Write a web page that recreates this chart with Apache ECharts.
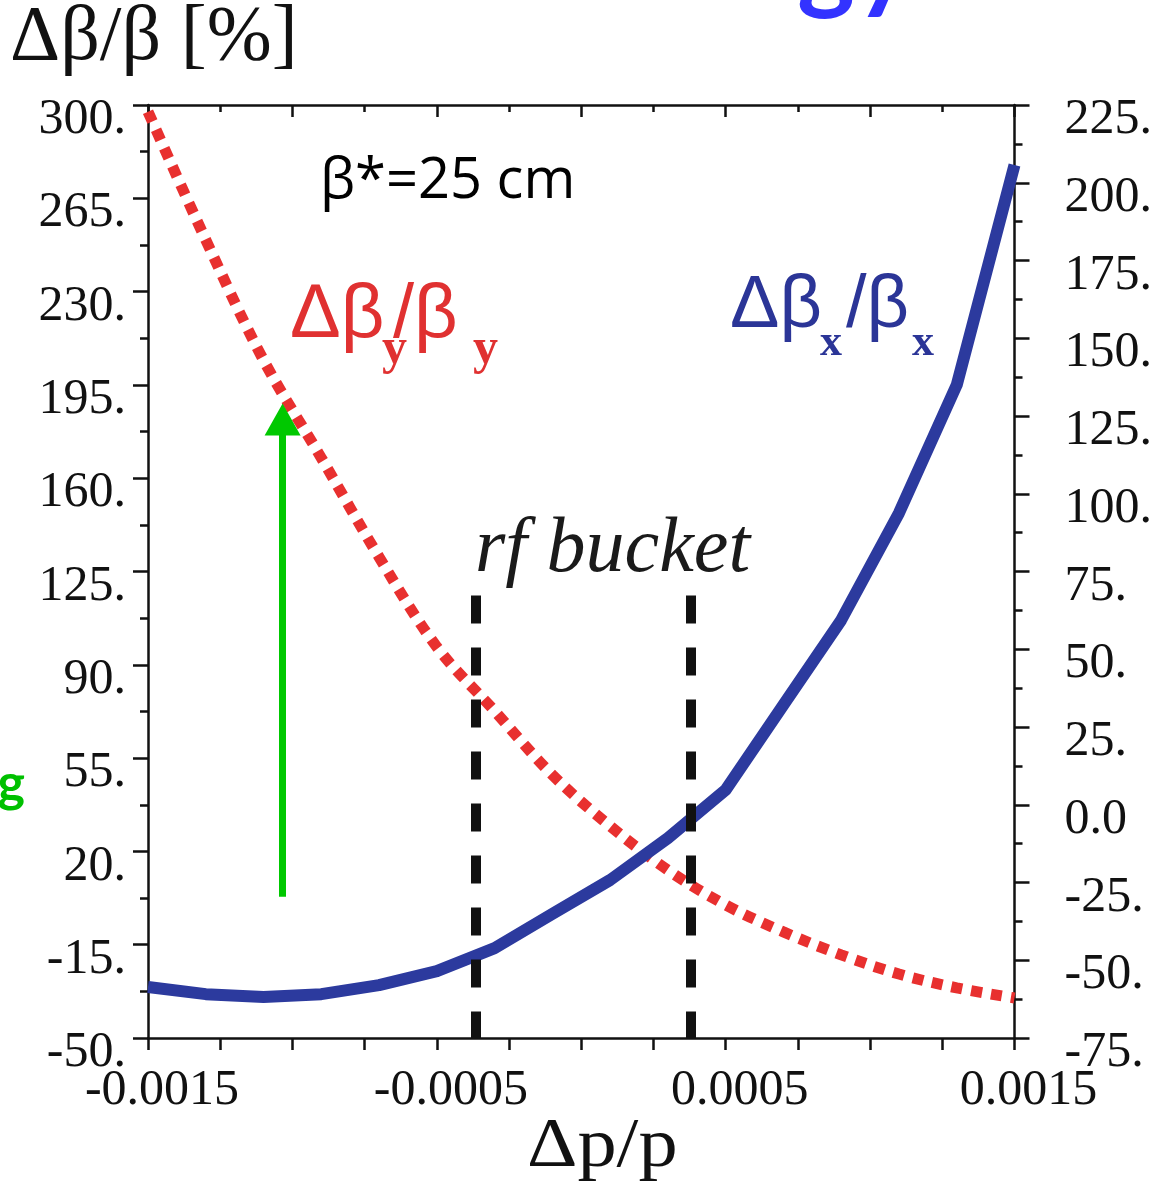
<!DOCTYPE html>
<html><head><meta charset="utf-8">
<script src="https://cdn.jsdelivr.net/npm/echarts@6/dist/echarts.min.js"></script>
<style>html,body{margin:0;padding:0;background:#fff;overflow:hidden}#c{width:1155px;height:1188px}</style>
</head><body><div id="c"></div>
<script>
// Δp/p sample points
const dpX = [-0.0015,-0.0013,-0.0011,-0.0009,-0.0007,-0.0005,-0.0003,-0.0001,0.0001,0.0003,0.0005,0.0007,0.0009,0.0011,0.0013,0.0015];
// Δβy/βy [%] (left axis)
const betaY = [297.5,249.4,204.3,167.6,130.4,96.7,72.7,48.7,29.5,13.0,-0.1,-10.2,-18.8,-26.0,-31.2,-35.0];
// Δβx/βx [%] (right axis)
const betaX = [-58.6,-60.9,-61.8,-60.9,-58.0,-53.5,-46.1,-35.1,-24.2,-10.7,4.8,32.1,59.4,93.8,135.0,205.7];
// tick labels
const xTickLabels = ['-0.0015','','-0.0005','','0.0005','','0.0015'];
const yLeftLabels = ['-50.','-15.','20.','55.','90.','125.','160.','195.','230.','265.','300.'];
const yRightLabels = ['-75.','-50.','-25.','0.0','25.','50.','75.','100.','125.','150.','175.','200.','225.'];
// rf bucket edges and arrow
const rfBucket = [-0.000366, 0.000379];
const rfTop = 116;
const arrowX = -0.001034, arrowFrom = 3, arrowTo = 182;

const serif = '"Liberation Serif", "Times New Roman", serif';
const sans = '"Liberation Sans", Arial, sans-serif';
const chart = echarts.init(document.getElementById('c'), null, {renderer:'canvas'});
const axisLine = {show:true, onZero:false, lineStyle:{color:'#111', width:2.5}};
const labelStyle = {color:'#111', fontFamily:serif, fontSize:50};
const tickStyle = {color:'#111', width:2.5};

chart.setOption({
  animation:false,
  backgroundColor:'#fff',
  grid:{left:148, right:134, top:105, bottom:150, containLabel:false},
  xAxis:[
    {type:'value', position:'bottom', min:-0.0015, max:0.0015, interval:0.0005,
     axisLine:axisLine, splitLine:{show:false},
     axisTick:{show:true, inside:false, length:12, lineStyle:tickStyle},
     minorTick:{show:true, splitNumber:2, length:12, lineStyle:tickStyle},
     axisLabel:Object.assign({}, labelStyle, {margin:28, padding:[0,0,0,28], showMinLabel:true, showMaxLabel:true,
       formatter:(v)=>{const i=Math.round((v+0.0015)/0.0005); return xTickLabels[i]||'';}})},
    {type:'value', position:'top', min:-0.0015, max:0.0015, interval:0.0005,
     axisLine:axisLine, splitLine:{show:false},
     axisTick:{show:true, inside:true, length:12, lineStyle:tickStyle},
     minorTick:{show:true, splitNumber:2, length:7, lineStyle:tickStyle},
     axisLabel:{show:false}}
  ],
  yAxis:[
    {type:'value', position:'left', min:-50, max:300, interval:35,
     axisLine:axisLine, splitLine:{show:false},
     axisTick:{show:true, inside:false, length:15, lineStyle:tickStyle},
     minorTick:{show:true, splitNumber:2, length:8, lineStyle:tickStyle},
     axisLabel:Object.assign({}, labelStyle, {margin:22, verticalAlign:'top', lineHeight:30, showMinLabel:true, showMaxLabel:true,
       formatter:(v)=>{const i=Math.round((v+50)/35); return yLeftLabels[i]||'';}})},
    {type:'value', position:'right', min:-75, max:225, interval:25,
     axisLine:axisLine, splitLine:{show:false},
     axisTick:{show:true, inside:false, length:15, lineStyle:tickStyle},
     minorTick:{show:true, splitNumber:2, length:8, lineStyle:tickStyle},
     axisLabel:Object.assign({}, labelStyle, {margin:50, verticalAlign:'top', lineHeight:30, showMinLabel:true, showMaxLabel:true,
       formatter:(v)=>{const i=Math.round((v+75)/25); return yRightLabels[i]||'';}})}
  ],
  series:[
    {name:'dby', type:'line', xAxisIndex:0, yAxisIndex:0, clip:false, smooth:0.35, showSymbol:false, silent:true,
     data:dpX.map((x,i)=>[x,betaY[i]]),
     lineStyle:{color:'#e8302f', width:11, type:[11,9], cap:'butt'},
     markLine:{silent:true, symbol:['none','none'], label:{show:false}, animation:false,
       data:[
         [{coord:[rfBucket[0], rfTop]}, {coord:[rfBucket[0], -50]}],
         [{coord:[rfBucket[1], rfTop]}, {coord:[rfBucket[1], -50]}]
       ],
       lineStyle:{color:'#111', width:10, type:[28,24], cap:'butt'}}
    },
    {name:'dbx', type:'line', xAxisIndex:0, yAxisIndex:1, clip:false, smooth:false, showSymbol:false, silent:true,
     data:dpX.map((x,i)=>[x,betaX[i]]),
     lineStyle:{color:'#2c3a9e', width:12, cap:'butt', join:'round'}},
    {name:'arrow', type:'line', xAxisIndex:0, yAxisIndex:0, data:[], silent:true,
     markLine:{silent:true, symbol:['none','triangle'], symbolSize:[36,32], label:{show:false}, animation:false,
       data:[[{coord:[arrowX, arrowFrom]}, {coord:[arrowX, arrowTo]}]],
       lineStyle:{color:'#00c800', width:7, type:'solid'},
       itemStyle:{color:'#00c800'}}}
  ],
  graphic:[
    {type:'text', x:10, y:0, style:{text:'Δβ/β [%]', font:'78px '+serif, fill:'#111'}},
    {type:'text', x:527, y:1113, scaleX:1.12, style:{text:'Δp/p', font:'70px '+serif, fill:'#111'}},
    {type:'text', x:320, y:154, style:{text:'β*=25 cm', font:'56px "Open Sans", Lato, sans-serif', fill:'#000'}},
    {type:'text', x:475, y:511, style:{text:'rf bucket', font:'italic 78px '+serif, fill:'#1a1a1a'}},
    // Δβy/βy
    {type:'text', x:290, y:278, style:{text:'Δβ', font:'76px '+sans, fill:'#e03131'}},
    {type:'text', x:382, y:325, style:{text:'y', font:'bold 50px '+serif, fill:'#e03131'}},
    {type:'text', x:393, y:278, style:{text:'/β', font:'76px '+sans, fill:'#e03131'}},
    {type:'text', x:473, y:325, style:{text:'y', font:'bold 50px '+serif, fill:'#e03131'}},
    // Δβx/βx
    {type:'text', x:730, y:270, style:{text:'Δβ', font:'74px '+sans, fill:'#2b3597'}},
    {type:'text', x:820, y:322, style:{text:'x', font:'bold 44px '+serif, fill:'#2b3597'}},
    {type:'text', x:846, y:270, style:{text:'/β', font:'74px '+sans, fill:'#2b3597'}},
    {type:'text', x:912, y:322, style:{text:'x', font:'bold 44px '+serif, fill:'#2b3597'}},
    // clipped slide texts
    {type:'text', x:25, y:758, style:{text:'ng', font:'bold 52px Lato, sans-serif', fill:'#00c000', align:'right'}},
    {type:'text', x:797, y:-91, style:{text:'gy', font:'bold 110px Lato, sans-serif', fill:'#3333ff'}}
  ]
});
</script></body></html>
